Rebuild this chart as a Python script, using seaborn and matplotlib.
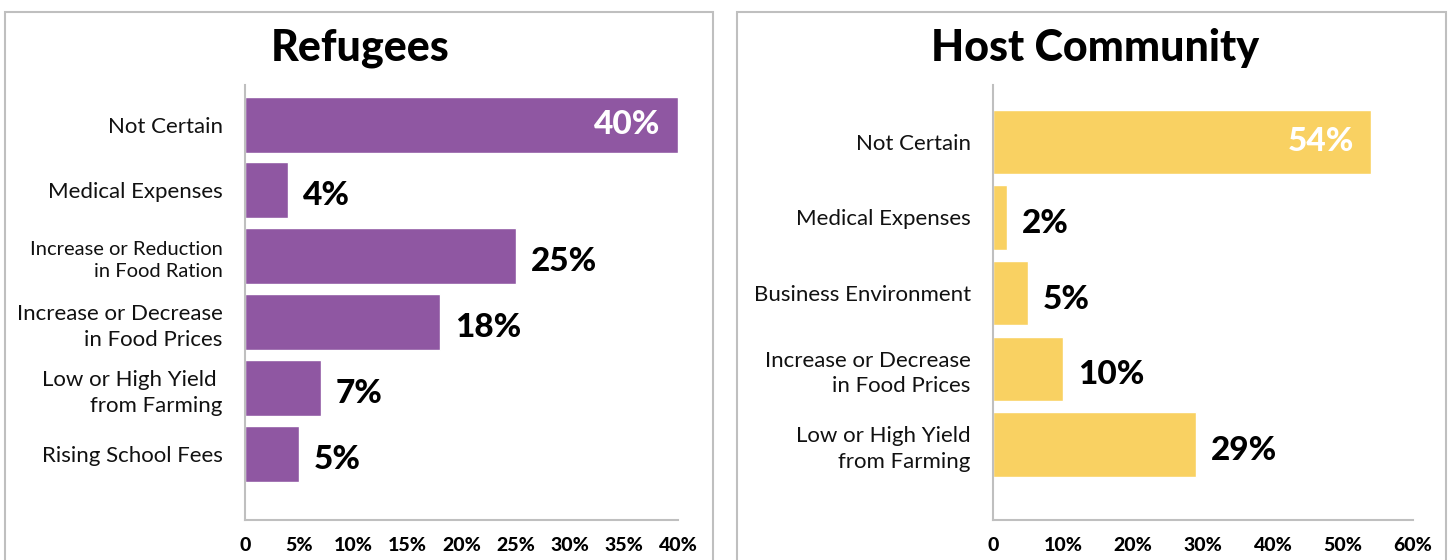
import matplotlib
matplotlib.use("Agg")
import matplotlib.pyplot as plt
from matplotlib.patches import Rectangle
from matplotlib.ticker import FuncFormatter
import seaborn as sns

# Data.
ref_labels = ["Not Certain", "Medical Expenses", "Increase or Reduction\nin Food Ration",
              "Increase or Decrease\nin Food Prices", "Low or High Yield \nfrom Farming",
              "Rising School Fees"]
ref_values = [40, 4, 25, 18, 7, 5]

host_labels = ["Not Certain", "Medical Expenses", "Business Environment",
               "Increase or Decrease\nin Food Prices", "Low or High Yield\nfrom Farming"]
host_values = [54, 2, 5, 10, 29]

purple = "#8F57A2"
yellow = "#F9D162"
grey = "#BFBFBF"

sns.set_theme(style="white")
plt.rcParams["font.family"] = ["Lato", "DejaVu Sans"]
plt.rcParams["text.color"] = "black"
plt.rcParams["xtick.labelcolor"] = "black"
plt.rcParams["ytick.labelcolor"] = "black"

fig = plt.figure(figsize=(14.48, 5.6), dpi=100)

# Panel frames
fig.patches.append(Rectangle((5 / 1448, -0.01), 708 / 1448, 1 - 12 / 560 + 0.01,
                             transform=fig.transFigure, fill=False, ec=grey, lw=1.5))
fig.patches.append(Rectangle((737 / 1448, -0.01), 709 / 1448, 1 - 12 / 560 + 0.01,
                             transform=fig.transFigure, fill=False, ec=grey, lw=1.5))


def pct(v, pos):
    return "0" if v == 0 else f"{int(v)}%"


def panel(rect, labels, values, color, xmax, step, ylim, title, title_x, small_labels=()):
    ax = fig.add_axes(rect)
    sns.barplot(x=values, y=labels, ax=ax, color=color, width=0.85, saturation=1)
    ax.set_xlim(0, xmax)
    ax.set_xticks(range(0, xmax + 1, step))
    ax.xaxis.set_major_formatter(FuncFormatter(pct))
    ax.set_ylim(*ylim)
    ax.set_xlabel("")
    ax.set_ylabel("")
    for s in ["top", "right"]:
        ax.spines[s].set_visible(False)
    for s in ["left", "bottom"]:
        ax.spines[s].set_color(grey)
        ax.spines[s].set_linewidth(1.5)
    ax.tick_params(axis="x", direction="in", length=10, width=1.2, color=grey,
                   labelsize=14, pad=12, labelcolor="black")
    ax.tick_params(axis="y", length=0, labelsize=16, pad=16, labelcolor="#111111")
    for t in ax.get_xticklabels():
        t.set_fontweight("black")
    for i, t in enumerate(ax.get_yticklabels()):
        t.set_linespacing(1.35)
        if i in small_labels:
            t.set_fontsize(14.5)
    top = max(values)
    for i, v in enumerate(values):
        if v == top:
            ax.text(v - xmax * 0.04, i, f"{v}%", ha="right", va="center",
                    color="white", fontsize=24, fontweight="black")
        else:
            ax.text(v + xmax * 0.035, i + 0.08, f"{v}%", ha="left", va="center",
                    color="black", fontsize=24, fontweight="black")
    fig.text(title_x, 1 - 48 / 560, title, ha="center", va="center",
             fontsize=31, fontweight="black", color="black")
    return ax


panel([245 / 1448, 40 / 560, 433 / 1448, 435 / 560], ref_labels, ref_values, purple,
      40, 5, (6.0, -0.6), "Refugees", 360 / 1448, small_labels=(2,))
panel([993 / 1448, 40 / 560, 420 / 1448, 435 / 560], host_labels, host_values, yellow,
      60, 10, (5.0, -0.75), "Host Community", 1095 / 1448)

fig.savefig("out.png", dpi=100)
